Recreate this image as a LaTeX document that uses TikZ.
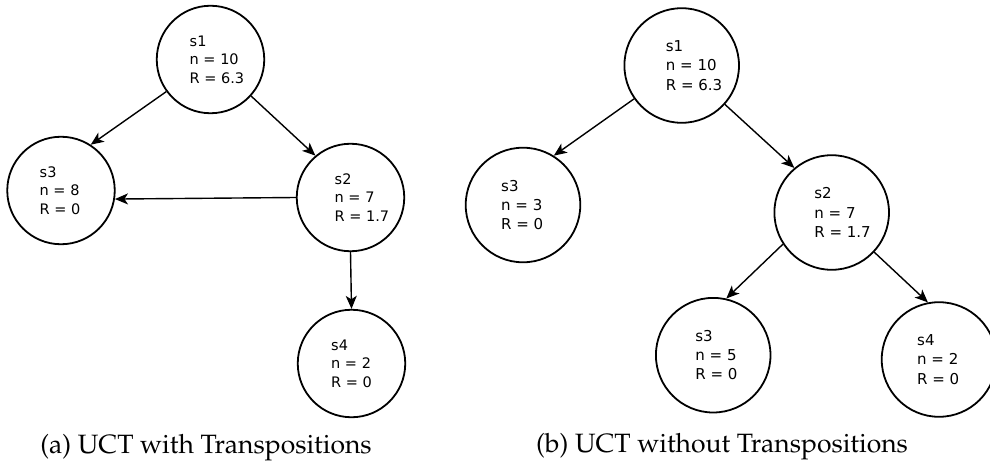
\documentclass[tikz,border=0pt]{standalone}
\usepackage[T1,TU]{fontenc}
\usepackage{fontspec}
\newfontfamily\dv{DejaVu Sans}
\usetikzlibrary{arrows.meta}
\begin{document}
\begin{tikzpicture}[x=1pt,y=-1pt,
  st/.style={draw,circle,line width=1.8pt,inner sep=0pt},
  stL/.style={st,minimum size=107.5pt},
  stR/.style={st,minimum size=114.6pt},
  txtL/.style={anchor=west,inner sep=0pt,align=left,font=\dv\fontsize{14.5}{18.6}\selectfont},
  txtR/.style={anchor=west,inner sep=0pt,align=left,font=\dv\fontsize{15}{19.3}\selectfont},
  conn/.style={line width=1.4pt,-{Stealth[length=13pt,width=11pt,inset=3.5pt]}},
  captxt/.style={anchor=base,inner sep=0pt,font=\fontencoding{T1}\fontfamily{ppl}\fontseries{m}\fontshape{n}\fontsize{26.5}{30}\selectfont}]
\useasboundingbox (0,0) rectangle (990,465);
% ---------- (a) ----------
\node[stL] (a1) at (210.5,59.5) {};
\node[stL] (a3) at (61,190.5) {};
\node[stL] (a2) at (350.5,197.5) {};
\node[stL] (a4) at (351.5,363.5) {};
\node[txtL] (a1t) at ([xshift=-21pt]a1.center) {s1\\n = 10\\R = 6.3};
\node[txtL] (a3t) at ([xshift=-21.5pt]a3.center) {s3\\n = 8\\R = 0};
\node[txtL] (a2t) at ([xshift=-16pt]a2.center) {s2\\n = 7\\R = 1.7};
\node[txtL] (a4t) at ([xshift=-20.5pt]a4.center) {s4\\n = 2\\R = 0};
\draw[conn] (a1.216) -- (a3.57);
\draw[conn] (a1.318) -- (a2.130);
\draw[conn] (a2.180) -- (a3.-9);
\draw[conn] (a2.270) -- (a4.90);
\node[captxt] (capa) at (206,453) {(a) UCT with Transpositions};
% ---------- (b) ----------
\node[stR] (b1) at (681.7,65.5) {};
\node[stR] (b3) at (523,205) {};
\node[stR] (b2) at (831.7,212.5) {};
\node[stR] (b5) at (713.2,355.2) {};
\node[stR] (b4) at (939,359.5) {};
\node[txtR] (b1t) at ([xshift=-16pt]b1.center) {s1\\n = 10\\R = 6.3};
\node[txtR] (b3t) at ([xshift=-22pt]b3.center) {s3\\n = 3\\R = 0};
\node[txtR] (b2t) at ([xshift=-17.5pt]b2.center) {s2\\n = 7\\R = 1.7};
\node[txtR] (b5t) at ([xshift=-18pt]b5.center) {s3\\n = 5\\R = 0};
\node[txtR] (b4t) at ([xshift=-22pt]b4.center) {s4\\n = 2\\R = 0};
\draw[conn] (b1.215.5) -- (b3.58);
\draw[conn] (b1.318) -- (b2.130);
\draw[conn] (b2.213.8) -- (b5.77.7);
\draw[conn] (b2.317.4) -- (b4.101.4);
\node[captxt] (capb) at (722,452) {(b) UCT without Transpositions};
\end{tikzpicture}
\end{document}
